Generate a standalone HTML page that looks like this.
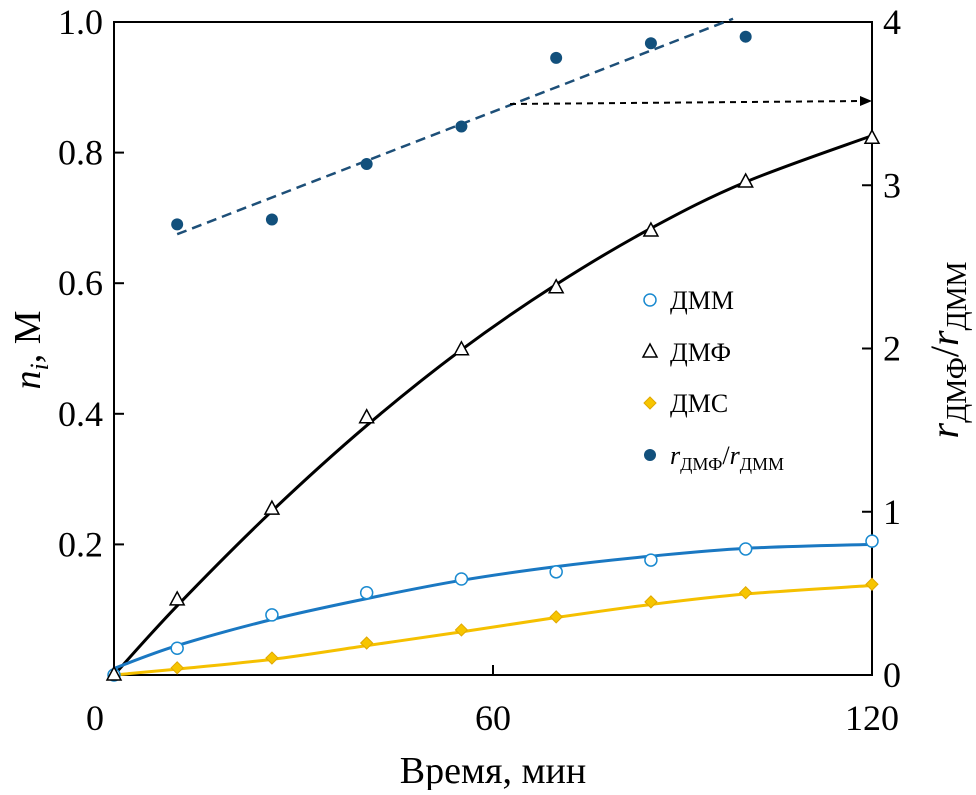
<!DOCTYPE html>
<html><head><meta charset="utf-8"><style>
body{margin:0;background:#fff}
svg text{font-family:"Liberation Serif",serif;fill:#000}
</style></head><body>
<svg id="chart" width="976" height="790" viewBox="0 0 976 790">
<g id="axes"></g><g id="marks"></g><g id="legend"></g>
</svg>
<script>
const times=[0,10,25,40,55,70,85,100,120];
const dmf=[0,0.115,0.254,0.394,0.498,0.593,0.680,0.755,0.822];
const dmm=[0,0.041,0.092,0.126,0.147,0.158,0.176,0.193,0.205];
const dms=[0,0.011,0.026,0.049,0.069,0.089,0.112,0.126,0.139];
const ratioTimes=[10,25,40,55,70,85,100];
const ratio=[2.76,2.79,3.13,3.36,3.78,3.87,3.91];
const fitTimes=[0,10,25,40,55,70,85,100,120];
const dmfFit=[0,0.106,0.251,0.382,0.498,0.598,0.684,0.755,0.826];
const dmmFit=[0.01,0.045,0.085,0.117,0.145,0.166,0.182,0.194,0.2];
const dmsFit=[0,0.009,0.024,0.045,0.066,0.088,0.108,0.124,0.137];
const ratioFitT=[10,98];
const ratioFit=[2.70,4.02];
const xTicks=[0,60,120];
const yTicks=[0.2,0.4,0.6,0.8,1.0];
const yTickLabels=["0.2","0.4","0.6","0.8","1.0"];
const y2Ticks=[0,1,2,3,4];

const X0=114,X1=872,Y0=675,Y1=22;
const sx=t=>X0+(X1-X0)*t/120;
const sy=v=>Y0-(Y0-Y1)*v;
const sy2=v=>Y0-(Y0-Y1)*v/4;
const NS="http://www.w3.org/2000/svg";
function mk(tag,attrs,parent){const e=document.createElementNS(NS,tag);for(const k in attrs)e.setAttribute(k,attrs[k]);parent.appendChild(e);return e;}
const axes=document.getElementById('axes'),marks=document.getElementById('marks'),legend=document.getElementById('legend');

let f=mk('rect',{x:X0,y:Y1,width:X1-X0,height:Y0-Y1,fill:'none',stroke:'#000','stroke-width':2},axes);

xTicks.forEach(t=>{
 const l=mk('line',{x1:sx(t),x2:sx(t),y1:Y0,y2:Y0-10,stroke:'#000','stroke-width':2},axes);
 
 const tx=mk('text',{x:t===0?95:sx(t),y:730,'font-size':36,'text-anchor':'middle'},axes);tx.textContent=t;
 
});
yTicks.forEach((v,i)=>{
 const l=mk('line',{x1:X0,x2:X0+10,y1:sy(v),y2:sy(v),stroke:'#000','stroke-width':2},axes);
 
 const tx=mk('text',{x:103,y:sy(v)+12,'font-size':36,'text-anchor':'end'},axes);tx.textContent=yTickLabels[i];
 
});
y2Ticks.forEach(v=>{
 const l=mk('line',{x1:X1,x2:X1-10,y1:sy2(v),y2:sy2(v),stroke:'#000','stroke-width':2},axes);
 
 const tx=mk('text',{x:883,y:sy2(v)+12,'font-size':36},axes);tx.textContent=v;
 
});
let xt=mk('text',{x:493,y:783,'font-size':38,'text-anchor':'middle'},axes);xt.textContent='Время, мин';

let yt=mk('text',{transform:'translate(40,350) rotate(-90)','font-size':38,'text-anchor':'middle'},axes);
yt.innerHTML='<tspan font-style="italic">n</tspan><tspan font-style="italic" font-size="26" dy="8">i</tspan><tspan dy="-8">, M</tspan>';

let y2t=mk('text',{transform:'translate(958,350) rotate(-90)','font-size':40,'text-anchor':'middle'},axes);
y2t.innerHTML='<tspan font-style="italic">r</tspan><tspan font-size="28" dy="8">ДМФ</tspan><tspan dy="-8">/</tspan><tspan font-style="italic">r</tspan><tspan font-size="28" dy="8">ДММ</tspan>';


function curve(ts,vs,fy){
 const p=ts.map((t,i)=>[sx(t),fy(vs[i])]);
 let d=`M${p[0][0]},${p[0][1]}`;
 for(let i=0;i<p.length-1;i++){
  const p0=p[Math.max(i-1,0)],p1=p[i],p2=p[i+1],p3=p[Math.min(i+2,p.length-1)];
  d+=` C${p1[0]+(p2[0]-p0[0])/6},${p1[1]+(p2[1]-p0[1])/6} ${p2[0]-(p3[0]-p1[0])/6},${p2[1]-(p3[1]-p1[1])/6} ${p2[0]},${p2[1]}`;
 }
 return d;
}
let c1=mk('path',{d:curve(fitTimes,dmfFit,sy),fill:'none',stroke:'#000','stroke-width':3},marks);

let c2=mk('path',{d:curve(fitTimes,dmmFit,sy),fill:'none',stroke:'#1a78c2','stroke-width':3},marks);

let c3=mk('path',{d:curve(fitTimes,dmsFit,sy),fill:'none',stroke:'#f5c000','stroke-width':3},marks);

let rl=mk('line',{x1:sx(ratioFitT[0]),y1:sy2(ratioFit[0]),x2:sx(ratioFitT[1]),y2:sy2(ratioFit[1]),stroke:'#1d4f78','stroke-width':2.5,'stroke-dasharray':'10,6'},marks);

let ar=mk('line',{x1:510,y1:104,x2:862,y2:101,stroke:'#000','stroke-width':2,'stroke-dasharray':'6,5'},marks);

let ah=mk('path',{d:'M872,101 L860,96 L860,106 Z',fill:'#000'},marks);


function tri(x,y,g){const e=mk('path',{d:`M${x},${y-8} L${x+7},${y+5} L${x-7},${y+5} Z`,fill:'#fff',stroke:'#000','stroke-width':1.5},g);return e;}
function circ(x,y,g){return mk('circle',{cx:x,cy:y,r:6,fill:'#fff',stroke:'#1a8ad0','stroke-width':1.5},g);}
function dia(x,y,g){return mk('path',{d:`M${x},${y-6} L${x+6},${y} L${x},${y+6} L${x-6},${y} Z`,fill:'#f7c500',stroke:'#e0a800','stroke-width':1},g);}
function dot(x,y,g){return mk('circle',{cx:x,cy:y,r:6,fill:'#12507c'},g);}
times.forEach((t,i)=>{
 let a=dia(sx(t),sy(dms[i]),marks);
 let b=circ(sx(t),sy(dmm[i]),marks);
 let c=tri(sx(t),sy(dmf[i]),marks);
});
ratioTimes.forEach((t,i)=>{
 let d=dot(sx(t),sy2(ratio[i]),marks);
});

const lg=[[circ,'ДММ',300],[tri,'ДМФ',352],[dia,'ДМС',403],[dot,'',455]];
lg.forEach(([fn,lab,y])=>{
 let m=fn(650,y,legend);
 let tx=mk('text',{x:670,y:y+9,'font-size':26},legend);
 if(lab)tx.textContent=lab;else tx.innerHTML='<tspan font-style="italic">r</tspan><tspan font-size="18" dy="6">ДМФ</tspan><tspan dy="-6">/</tspan><tspan font-style="italic">r</tspan><tspan font-size="18" dy="6">ДММ</tspan>';
 
});
</script>
</body></html>
